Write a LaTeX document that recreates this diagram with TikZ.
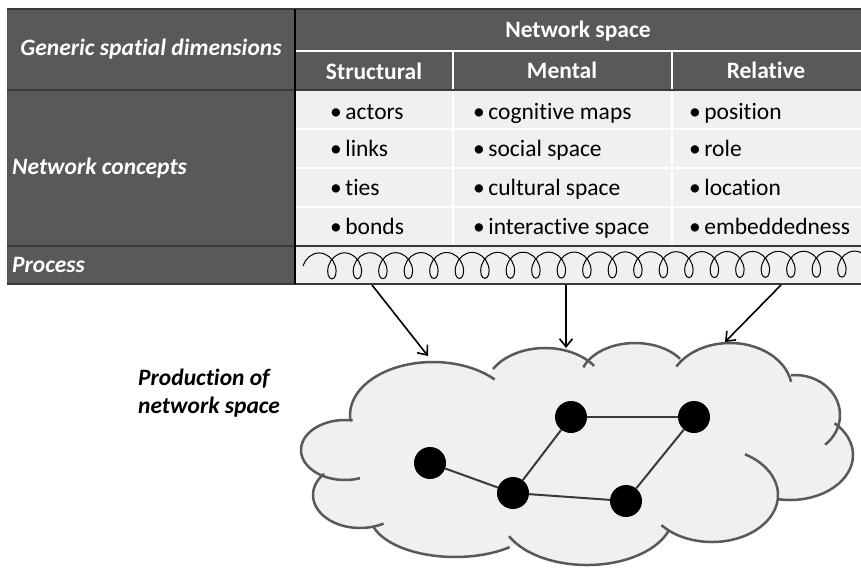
\documentclass[tikz,border=0pt]{standalone}
\usepackage{fontspec}
\setmainfont{Carlito}[RawFeature={-liga;-clig;-calt;-dlig}]
\usetikzlibrary{arrows.meta,decorations.pathmorphing}
\definecolor{darkcell}{HTML}{595959}
\definecolor{lightcell}{HTML}{F0F0F0}
\definecolor{rulegray}{HTML}{3A3A3A}
\newcommand{\cellfont}{\fontsize{23.5}{28}\selectfont}
\newcommand{\bul}{•\kern3.5pt}
\tikzset{
    headtxt/.style={text=white, font=\cellfont\bfseries, inner sep=0pt, anchor=base},
    sidetxt/.style={text=white, font=\cellfont\bfseries\itshape, inner sep=0pt, anchor=base west},
    itemtxt/.style={font=\cellfont, inner sep=0pt, anchor=base west},
    lobe/.style={draw=darkcell, line width=2.5pt},
    actor/.style={circle, fill=black, minimum size=32pt, inner sep=0pt},
    tie/.style={draw=rulegray, line width=2pt},
    feed/.style={-{Straight Barb[length=8pt,width=13pt]}, line width=1.6pt},
}
\begin{document}
\begin{tikzpicture}[x=1pt, y=-1pt]
            \useasboundingbox (0,0) rectangle (861,568);
            % table cells
            \fill[darkcell] (7,9) rectangle (861,90);
            \fill[darkcell] (7,90) rectangle (295,284);
            \fill[lightcell] (295,90) rectangle (861,284);
            \draw[white, line width=1.2pt] (295,51) -- (861,51);
            \draw[white, line width=1.2pt] (453,51) -- (453,246);
            \draw[white, line width=1.2pt] (672,51) -- (672,246);
            \draw[white, line width=1.2pt] (295,129) -- (861,129);
            \draw[white, line width=1.2pt] (295,168) -- (861,168);
            \draw[white, line width=1.2pt] (295,207) -- (861,207);
            \draw[rulegray, line width=1.5pt] (7,9) -- (861,9);
            \draw[rulegray, line width=2.5pt] (7,90) -- (861,90);
            \draw[rulegray, line width=2.5pt] (7,246) -- (861,246);
            \draw[rulegray, line width=2pt] (7,284) -- (861,284);
            \draw[black, line width=1.5pt] (295,9) -- (295,284);

            \node[sidetxt, anchor=base] (gsd) at (151,55) {Generic spatial dimensions};
            \node[headtxt] (netspace) at (578,37) {Network space};
            \node[headtxt] (hstruct) at (374,79) {Structural};
            \node[headtxt] (hmental) at (562,78) {Mental};
            \node[headtxt] (hrel) at (766,78) {Relative};
            \node[sidetxt] (ncon) at (12,174) {Network concepts};
            \node[sidetxt] (proc) at (12,272) {Process};

            \node[itemtxt] (s1) at (330,119) {\bul actors};
            \node[itemtxt] (s2) at (330,156) {\bul links};
            \node[itemtxt] (s3) at (330,195) {\bul ties};
            \node[itemtxt] (s4) at (330,234) {\bul bonds};
            \node[itemtxt] (m1) at (473,119) {\bul cognitive maps};
            \node[itemtxt] (m2) at (473,156) {\bul social space};
            \node[itemtxt] (m3) at (473,195) {\bul cultural space};
            \node[itemtxt] (m4) at (473,234) {\bul interactive space};
            \node[itemtxt] (r1) at (689,119) {\bul position};
            \node[itemtxt] (r2) at (689,156) {\bul role};
            \node[itemtxt] (r3) at (689,195) {\bul location};
            \node[itemtxt] (r4) at (689,234) {\bul embeddedness};

            % process coil
            \coordinate (coilstart) at (303,266);
            \coordinate (coilend) at (885,264);
            \draw[decorate, decoration={coil, amplitude=13pt, segment length=25.5pt, aspect=0.75}, line width=1pt] (coilstart) -- (coilend);

            % cloud
            \fill[lightcell] (345,450) -- (360,495) -- (455,515) -- (587,515) -- (712,495) -- (790,455) -- (795,415) -- (730,390) -- (635,380) -- (545,390) -- (433,415) -- cycle;
            \fill[lightcell] (345,450) ellipse[x radius=44, y radius=30];
            \fill[lightcell] (360,495) ellipse[x radius=47, y radius=33];
            \fill[lightcell] (455,515) ellipse[x radius=85, y radius=42];
            \fill[lightcell] (587,515) ellipse[x radius=86, y radius=50];
            \fill[lightcell] (712,495) ellipse[x radius=66, y radius=47];
            \fill[lightcell] (790,455) ellipse[x radius=63, y radius=45];
            \fill[lightcell] (795,415) ellipse[x radius=45, y radius=40];
            \fill[lightcell] (730,390) ellipse[x radius=62, y radius=47];
            \fill[lightcell] (635,380) ellipse[x radius=55, y radius=37];
            \fill[lightcell] (545,390) ellipse[x radius=60, y radius=42];
            \fill[lightcell] (433,415) ellipse[x radius=83, y radius=53];
            \draw[lobe] (345,450) ++(-80:44 and 30) arc[start angle=-80, end angle=-290, x radius=44, y radius=30];
            \draw[lobe] (360,495) ++(-140:47 and 33) arc[start angle=-140, end angle=-300, x radius=47, y radius=33];
            \draw[lobe] (455,515) ++(165:85 and 42) arc[start angle=165, end angle=50, x radius=85, y radius=42];
            \draw[lobe] (587,515) ++(155:86 and 50) arc[start angle=155, end angle=18, x radius=86, y radius=50];
            \draw[lobe] (712,495) ++(140:66 and 47) arc[start angle=140, end angle=-60, x radius=66, y radius=47];
            \draw[lobe] (790,455) ++(-45:63 and 45) arc[start angle=-45, end angle=100, x radius=63, y radius=45];
            \draw[lobe] (795,415) ++(48:45 and 40) arc[start angle=48, end angle=-95, x radius=45, y radius=40];
            \draw[lobe] (730,390) ++(-10:62 and 47) arc[start angle=-10, end angle=-150, x radius=62, y radius=47];
            \draw[lobe] (635,380) ++(-160:55 and 37) arc[start angle=-160, end angle=-35, x radius=55, y radius=37];
            \draw[lobe] (545,390) ++(-150:60 and 42) arc[start angle=-150, end angle=-35, x radius=60, y radius=42];
            \draw[lobe] (433,415) ++(-185:83 and 53) arc[start angle=-185, end angle=-42, x radius=83, y radius=53];

            \node[actor] (a) at (430,463) {};
            \node[actor] (b) at (513,493) {};
            \node[actor] (c) at (571,417) {};
            \node[actor] (d) at (694,417) {};
            \node[actor] (e) at (626,501) {};
            \draw[tie] (a) -- (b);
            \draw[tie] (b) -- (c);
            \draw[tie] (c) -- (d);
            \draw[tie] (d) -- (e);
            \draw[tie] (b) -- (e);

            \coordinate (from1) at (372,285);
            \coordinate (to1) at (428,356);
            \coordinate (from2) at (566,285);
            \coordinate (to2) at (566,348);
            \coordinate (from3) at (781,285);
            \coordinate (to3) at (725,342);
            \draw[feed] (from1) -- (to1);
            \draw[feed] (from2) -- (to2);
            \draw[feed] (from3) -- (to3);

            \node[itemtxt, font=\cellfont\bfseries\itshape] (prod1) at (138,385) {Production of};
            \node[itemtxt, font=\cellfont\bfseries\itshape] (prod2) at (138,413) {network space};
\end{tikzpicture}
\end{document}
